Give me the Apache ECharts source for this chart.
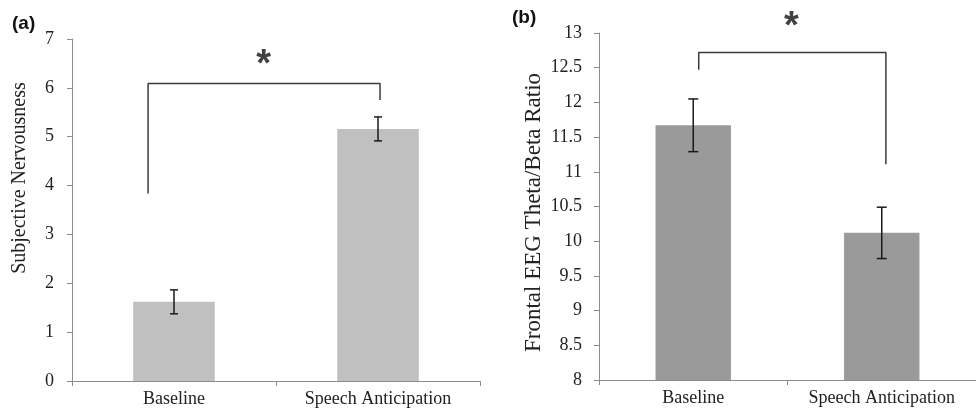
<!DOCTYPE html>
<html>
<head>
<meta charset="utf-8">
<script src="https://cdn.jsdelivr.net/npm/echarts@6/dist/echarts.min.js"></script>
<style>
  html, body { margin: 0; padding: 0; background: #fff; }
  #main { width: 976px; height: 412px; }
</style>
</head>
<body>
<div id="main"></div>
<script>
var categories = ['Baseline', 'Speech Anticipation'];

// panel (a): subjective nervousness
var nervMean = [1.62, 5.16];
var nervErr = [0.245, 0.245];
// panel (b): frontal EEG theta/beta ratio
var tbrMean = [11.67, 10.12];
var tbrErr = [0.38, 0.37];

// significance brackets: [x, y] on a -0.5..1.5 value scale laid over the category axis
var bracketA = [[-0.127, 3.84], [-0.127, 6.09], [1.01, 6.09], [1.01, 5.75]];
var starA = [[0.44, 6.46]];
var bracketB = [[0.029, 12.47], [0.029, 12.72], [1.022, 12.72], [1.022, 11.11]];
var starB = [[0.52, 13.08]];

var serif = '"Liberation Serif", "DejaVu Serif", serif';
var axisGrey = '#8c8c8c';

function errData(mean, err) {
    return mean.map(function (m, i) {
        return [i, m - err[i], m + err[i]];
    });
}

function errRender(capHalf) {
    return function (params, api) {
        var lo = api.coord([api.value(0), api.value(1)]);
        var hi = api.coord([api.value(0), api.value(2)]);
        var st = { stroke: '#1a1a1a', lineWidth: 1.5 };
        return {
            type: 'group',
            children: [
                { type: 'line', shape: { x1: lo[0], y1: lo[1], x2: hi[0], y2: hi[1] }, style: st },
                { type: 'line', shape: { x1: hi[0] - capHalf, y1: hi[1], x2: hi[0] + capHalf, y2: hi[1] }, style: st },
                { type: 'line', shape: { x1: lo[0] - capHalf, y1: lo[1], x2: lo[0] + capHalf, y2: lo[1] }, style: st }
            ]
        };
    };
}

function catAxis(grid, size) {
    return {
        type: 'category',
        gridIndex: grid,
        data: categories,
        axisLine: { onZero: false, lineStyle: { color: axisGrey, width: 1 } },
        axisTick: { show: true, length: 5, lineStyle: { color: axisGrey } },
        axisLabel: { interval: 0, color: '#222', fontFamily: serif, fontSize: size, margin: 9 }
    };
}

function hiddenX(grid) {
    return { type: 'value', gridIndex: grid, min: -0.5, max: 1.5, show: false };
}

var myChart = echarts.init(document.getElementById('main'));

var option = {
    animation: false,
    backgroundColor: '#fff',
    textStyle: { fontFamily: serif },
    grid: [
        { left: 72, top: 39, right: 496, bottom: 31 },
        { left: 599, top: 33, right: -10, bottom: 32 }
    ],
    xAxis: [catAxis(0, 18), catAxis(1, 18), hiddenX(0), hiddenX(1)],
    yAxis: [
        {
            type: 'value', gridIndex: 0, min: 0, max: 7, interval: 1,
            name: 'Subjective Nervousness',
            nameLocation: 'middle', nameGap: 42,
            nameTextStyle: { fontFamily: serif, fontSize: 20, color: '#222', padding: [0, 0, 0, 64] },
            axisLine: { show: true, onZero: false, lineStyle: { color: axisGrey } },
            axisTick: { show: true, length: 5, lineStyle: { color: axisGrey } },
            axisLabel: { fontFamily: serif, fontSize: 18, color: '#222', margin: 18 },
            splitLine: { show: false }
        },
        {
            type: 'value', gridIndex: 1, min: 8, max: 13, interval: 0.5,
            name: 'Frontal EEG Theta/Beta Ratio',
            nameLocation: 'middle', nameGap: 54,
            nameTextStyle: { fontFamily: serif, fontSize: 23, color: '#222', padding: [0, 12, 0, 0] },
            axisLine: { show: true, onZero: false, lineStyle: { color: axisGrey } },
            axisTick: { show: true, length: 5, lineStyle: { color: axisGrey } },
            axisLabel: { fontFamily: serif, fontSize: 18, color: '#222', margin: 17 },
            splitLine: { show: false }
        }
    ],
    graphic: [
        { type: 'text', left: 12, top: 14, style: { text: '(a)', font: 'bold 19px "Liberation Sans"', fill: '#111' } },
        { type: 'text', left: 512, top: 8, style: { text: '(b)', font: 'bold 19px "Liberation Sans"', fill: '#111' } }
    ],
    series: [
        {
            type: 'bar', xAxisIndex: 0, yAxisIndex: 0, data: nervMean,
            barWidth: '40%', itemStyle: { color: '#c0c0c0' }
        },
        {
            type: 'custom', xAxisIndex: 0, yAxisIndex: 0, data: errData(nervMean, nervErr),
            encode: { x: 0, y: [1, 2] }, renderItem: errRender(4), z: 3
        },
        {
            type: 'bar', xAxisIndex: 1, yAxisIndex: 1, data: tbrMean,
            barWidth: '40%', itemStyle: { color: '#9a9a9a' }
        },
        {
            type: 'custom', xAxisIndex: 1, yAxisIndex: 1, data: errData(tbrMean, tbrErr),
            encode: { x: 0, y: [1, 2] }, renderItem: errRender(5), z: 3
        },
        {
            type: 'line', xAxisIndex: 2, yAxisIndex: 0, data: bracketA,
            symbol: 'none', lineStyle: { color: '#3a3a3a', width: 1.5 }
        },
        {
            type: 'line', xAxisIndex: 3, yAxisIndex: 1, data: bracketB,
            symbol: 'none', lineStyle: { color: '#3a3a3a', width: 1.5 }
        },
        {
            type: 'scatter', xAxisIndex: 2, yAxisIndex: 0, data: starA, clip: false,
            symbolSize: 1, itemStyle: { color: 'rgba(0,0,0,0)' },
            label: { show: true, position: 'inside', formatter: '*', fontFamily: 'Liberation Sans', fontWeight: 'bold', fontSize: 38, color: '#111' }
        },
        {
            type: 'scatter', xAxisIndex: 3, yAxisIndex: 1, data: starB, clip: false,
            symbolSize: 1, itemStyle: { color: 'rgba(0,0,0,0)' },
            label: { show: true, position: 'inside', formatter: '*', fontFamily: 'Liberation Sans', fontWeight: 'bold', fontSize: 38, color: '#111' }
        }
    ]
};

myChart.setOption(option);
</script>
</body>
</html>
